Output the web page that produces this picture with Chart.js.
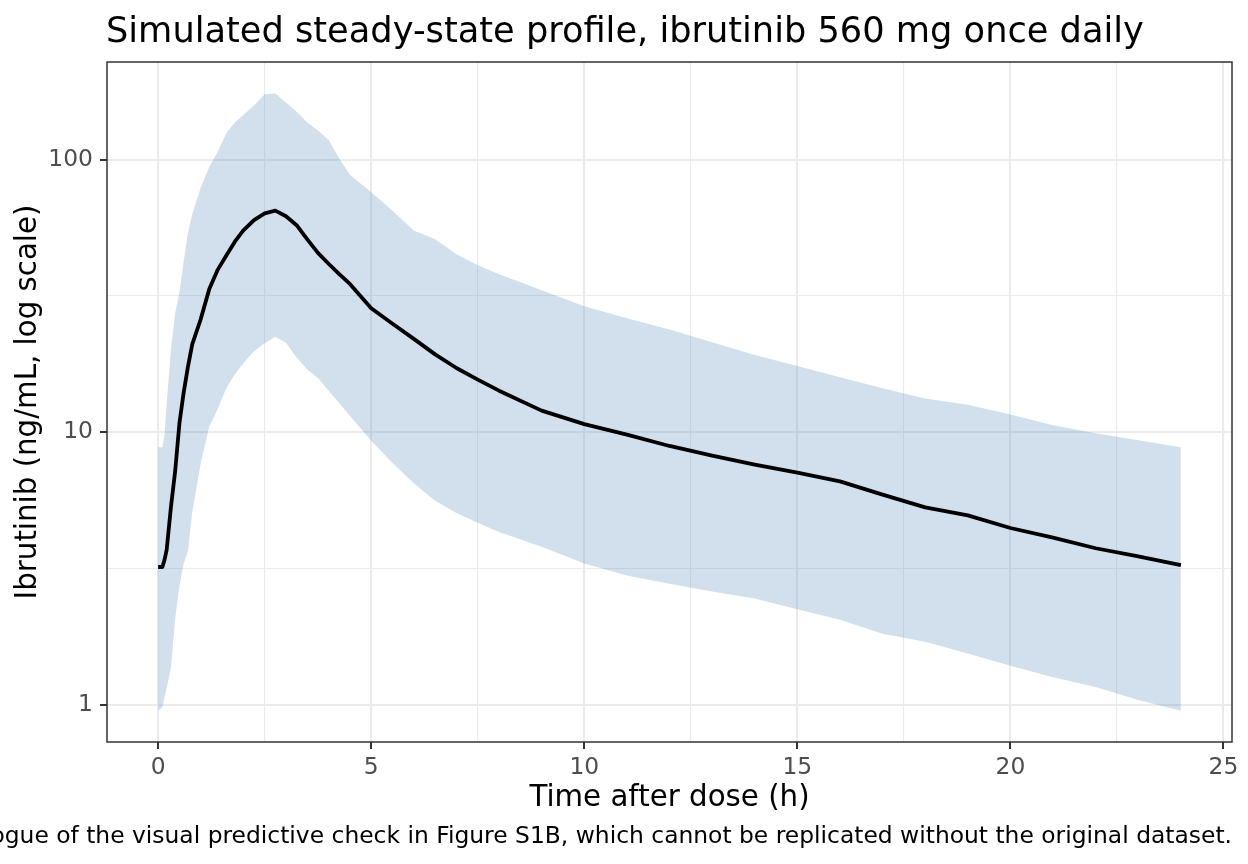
<!DOCTYPE html>
<html>
<head>
<meta charset="utf-8">
<script src="https://cdn.jsdelivr.net/npm/chart.js@4.4.1/dist/chart.umd.min.js"></script>
<style>
  html, body { margin: 0; padding: 0; background: #ffffff; }
  #wrap { width: 1248px; height: 864px; position: relative; }
</style>
</head>
<body>
<div id="wrap"><canvas id="chart"></canvas></div>
<script>
// time after dose (h)
const timeH = [
    0, 0.1, 0.15, 0.2, 0.3, 0.4, 0.5, 0.6, 0.7, 0.8,
    1.0, 1.2, 1.4, 1.6, 1.8, 2.0, 2.25, 2.5, 2.75, 3.0,
    3.25, 3.5, 3.75, 4.0, 4.25, 4.5, 5.0, 5.5, 6.0, 6.5,
    7.0, 7.5, 8.0, 9, 10, 11, 12, 13, 14, 15,
    16, 17, 18, 19, 20, 21, 22, 23, 24
];

// median concentration (ng/mL)
const medianConc = [
    3.2, 3.2, 3.4, 3.7, 5.3, 7.2, 10.8, 14.0, 17.4, 21,
    26, 33.5, 39.5, 44.5, 50, 55, 60, 63.5, 65, 62,
    57.5, 51, 45.5, 41.5, 38, 35, 28.5, 25, 22, 19.3,
    17.2, 15.6, 14.2, 12, 10.7, 9.8, 8.9, 8.2, 7.6, 7.1,
    6.6, 5.9, 5.3, 4.95, 4.45, 4.1, 3.75, 3.5, 3.25
];

// 95th percentile
const upperConc = [
    8.8, 8.8, 9.8, 12.7, 20, 27.4, 32.7, 42.4, 54, 63,
    79, 94, 107, 125, 137, 146, 158, 174, 175, 162,
    150, 137, 128, 118, 101, 88, 76, 65, 55, 51,
    45, 41, 38, 33.2, 29, 26.2, 23.8, 21.4, 19.2, 17.5,
    15.9, 14.5, 13.3, 12.6, 11.6, 10.6, 9.9, 9.35, 8.8
];

// 5th percentile
const lowerConc = [
    0.95, 0.98, 1.07, 1.15, 1.36, 2.07, 2.72, 3.3, 3.66, 5.07,
    7.7, 10.5, 12.2, 14.5, 16.3, 17.9, 19.8, 21.2, 22.4, 21.3,
    18.8, 17.0, 15.8, 14.2, 12.8, 11.5, 9.3, 7.7, 6.5, 5.6,
    5.05, 4.65, 4.3, 3.8, 3.3, 2.98, 2.78, 2.6, 2.45, 2.24,
    2.05, 1.82, 1.7, 1.54, 1.39, 1.26, 1.16, 1.04, 0.95
];

const xMajorTicks = [0, 5, 10, 15, 20, 25];
const xMinorTicks = [2.5, 7.5, 12.5, 17.5, 22.5];
const yMajorTicks = [1, 10, 100];
const yMinorTicks = [3.1623, 31.623];

const titleText = 'Simulated steady-state profile, ibrutinib 560 mg once daily';
const xTitleText = 'Time after dose (h)';
const yTitleText = 'Ibrutinib (ng/mL, log scale)';
const captionText = 'ogue of the visual predictive check in Figure S1B, which cannot be replicated without the original dataset.';

const FONT = "'DejaVu Sans', 'Liberation Sans', sans-serif";
const gridColor = '#ebebeb';
const inkColor = '#333333';
const bandFill = 'rgba(70, 130, 180, 0.25)';

const toPoints = (ys) => timeH.map((t, i) => ({ x: t, y: ys[i] }));

const isMajorX = v => xMajorTicks.includes(v);
const isMajorY = v => yMajorTicks.some(m => Math.abs(m - v) < 1e-6);

// text and panel border, drawn the ggplot way
const decorations = {
    id: 'decorations',
    afterDraw(chart) {
        const ctx = chart.ctx;
        const a = chart.chartArea;
        ctx.save();

        ctx.strokeStyle = inkColor;
        ctx.lineWidth = 1.5;
        ctx.strokeRect(a.left, a.top, a.right - a.left, a.bottom - a.top);

        ctx.fillStyle = '#000000';
        ctx.textBaseline = 'alphabetic';

        ctx.font = '35.2px ' + FONT;
        ctx.textAlign = 'left';
        ctx.fillText(titleText, a.left - 1, 42);

        ctx.font = '29.3px ' + FONT;
        ctx.textAlign = 'center';
        ctx.fillText(xTitleText, (a.left + a.right) / 2, 806);

        ctx.save();
        ctx.translate(36, (a.top + a.bottom) / 2);
        ctx.rotate(-Math.PI / 2);
        ctx.fillText(yTitleText, 0, 0);
        ctx.restore();

        ctx.font = '23.4px ' + FONT;
        ctx.textAlign = 'right';
        ctx.fillText(captionText, a.right, 843);

        ctx.restore();
    }
};

const ctx = document.getElementById('chart').getContext('2d');
new Chart(ctx, {
    type: 'line',
    data: {
        datasets: [
            {
                label: 'Median',
                data: toPoints(medianConc),
                borderColor: '#000000',
                borderWidth: 3.8,
                borderJoinStyle: 'round',
                pointRadius: 0,
                tension: 0,
                fill: false
            },
            {
                label: '95th percentile',
                data: toPoints(upperConc),
                borderColor: 'rgba(0,0,0,0)',
                borderWidth: 0,
                backgroundColor: bandFill,
                pointRadius: 0,
                tension: 0,
                fill: '+1'
            },
            {
                label: '5th percentile',
                data: toPoints(lowerConc),
                borderColor: 'rgba(0,0,0,0)',
                borderWidth: 0,
                pointRadius: 0,
                tension: 0,
                fill: false
            }
        ]
    },
    options: {
        responsive: true,
        maintainAspectRatio: false,
        animation: false,
        events: [],
        layout: { padding: { top: 62, right: 16, bottom: 0, left: 0 } },
        plugins: {
            legend: { display: false },
            tooltip: { enabled: false },
            title: { display: false }
        },
        scales: {
            x: {
                type: 'linear',
                min: -1.2,
                max: 25.2,
                bounds: 'data',
                afterBuildTicks: s => { s.ticks = xMajorTicks.concat(xMinorTicks).sort((p, q) => p - q).map(v => ({ value: v })); },
                afterFit: s => { s.height = 122; },
                border: { display: false },
                grid: {
                    color: gridColor,
                    lineWidth: c => isMajorX(c.tick.value) ? 2 : 1.1,
                    tickColor: c => isMajorX(c.tick.value) ? inkColor : 'rgba(0,0,0,0)',
                    tickLength: 7,
                    tickWidth: 2
                },
                ticks: {
                    autoSkip: false,
                    maxRotation: 0,
                    padding: 5,
                    color: '#4d4d4d',
                    font: { family: FONT, size: 23.4 },
                    callback: v => isMajorX(v) ? String(v) : ''
                }
            },
            y: {
                type: 'logarithmic',
                min: Math.pow(10, -0.137),
                max: Math.pow(10, 2.3585),
                bounds: 'data',
                afterBuildTicks: s => { s.ticks = yMajorTicks.concat(yMinorTicks).sort((p, q) => p - q).map(v => ({ value: v })); },
                afterFit: s => { s.width = 107; },
                border: { display: false },
                grid: {
                    color: gridColor,
                    lineWidth: c => isMajorY(c.tick.value) ? 2 : 1.1,
                    tickColor: c => isMajorY(c.tick.value) ? inkColor : 'rgba(0,0,0,0)',
                    tickLength: 7,
                    tickWidth: 2
                },
                ticks: {
                    autoSkip: false,
                    padding: 7,
                    color: '#4d4d4d',
                    font: { family: FONT, size: 23.4 },
                    callback: v => isMajorY(v) ? String(Math.round(v)) : ''
                }
            }
        }
    },
    plugins: [decorations]
});
</script>
</body>
</html>
